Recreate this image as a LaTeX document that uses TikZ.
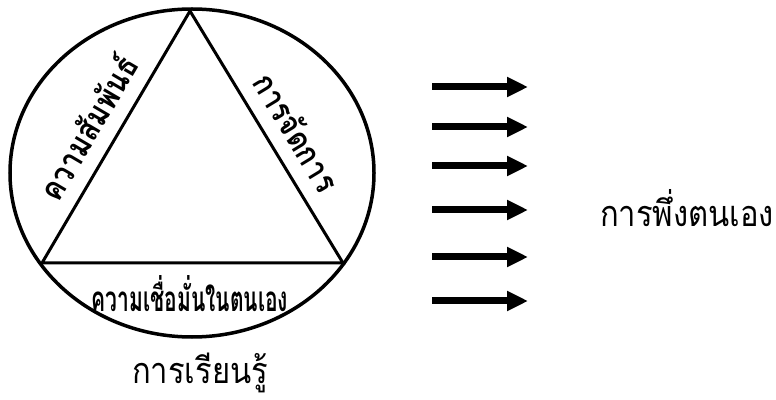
\documentclass[tikz,border=0pt]{standalone}
\usepackage{fontspec}
\newfontfamily\thaifont[Script=Thai, FakeStretch=0.86]{Loma}
\newfontfamily\thaicond[Script=Thai, FakeStretch=0.6]{Loma}
\usetikzlibrary{arrows.meta, calc}

\begin{document}
\begin{tikzpicture}[x=1pt, y=1pt,
  side/.style={font=\thaifont\bfseries\fontsize{33}{35}\selectfont, inner sep=1pt},
  caption/.style={font=\thaifont\fontsize{36}{38}\selectfont},
  bigarrow/.style={line width=7pt, -{Triangle[length=21pt, width=19pt]}}]
  \useasboundingbox (0,0) rectangle (776,399);
  % Circle (a little wider than tall) with the triangle inside
  \coordinate (O) at (192,226);
  \coordinate (T) at (190,388);
  \coordinate (L) at (42,136);
  \coordinate (R) at (343,136);
  \draw[line width=3.5pt] (O) ellipse [x radius=182pt, y radius=164pt];
  \draw[line width=3pt] (L) -- (T) -- (R) -- cycle;
  % Labels along the three sides
  \node[side, rotate=59.6] (rel) at (87,272) {ความสัมพันธ์};
  \node[side, rotate=-58.7] (man) at (297,267) {การจัดการ};
  \node[side, font=\thaicond\bfseries\fontsize{35}{37}\selectfont] (conf) at (190,105) {ความเชื่อมั่นในตนเอง};
  \node[caption] (learn) at (200,26) {การเรียนรู้};
  % Arrows to the right
  \node[caption] (self) at (687,191) {การพึ่งตนเอง};
  \foreach \y [count=\i] in {312,272,233,189,142,98} {
    \coordinate (a\i) at (432,\y);
    \coordinate (b\i) at (528,\y);
    \draw[bigarrow] (a\i) -- (b\i);
  }
\end{tikzpicture}
\end{document}
